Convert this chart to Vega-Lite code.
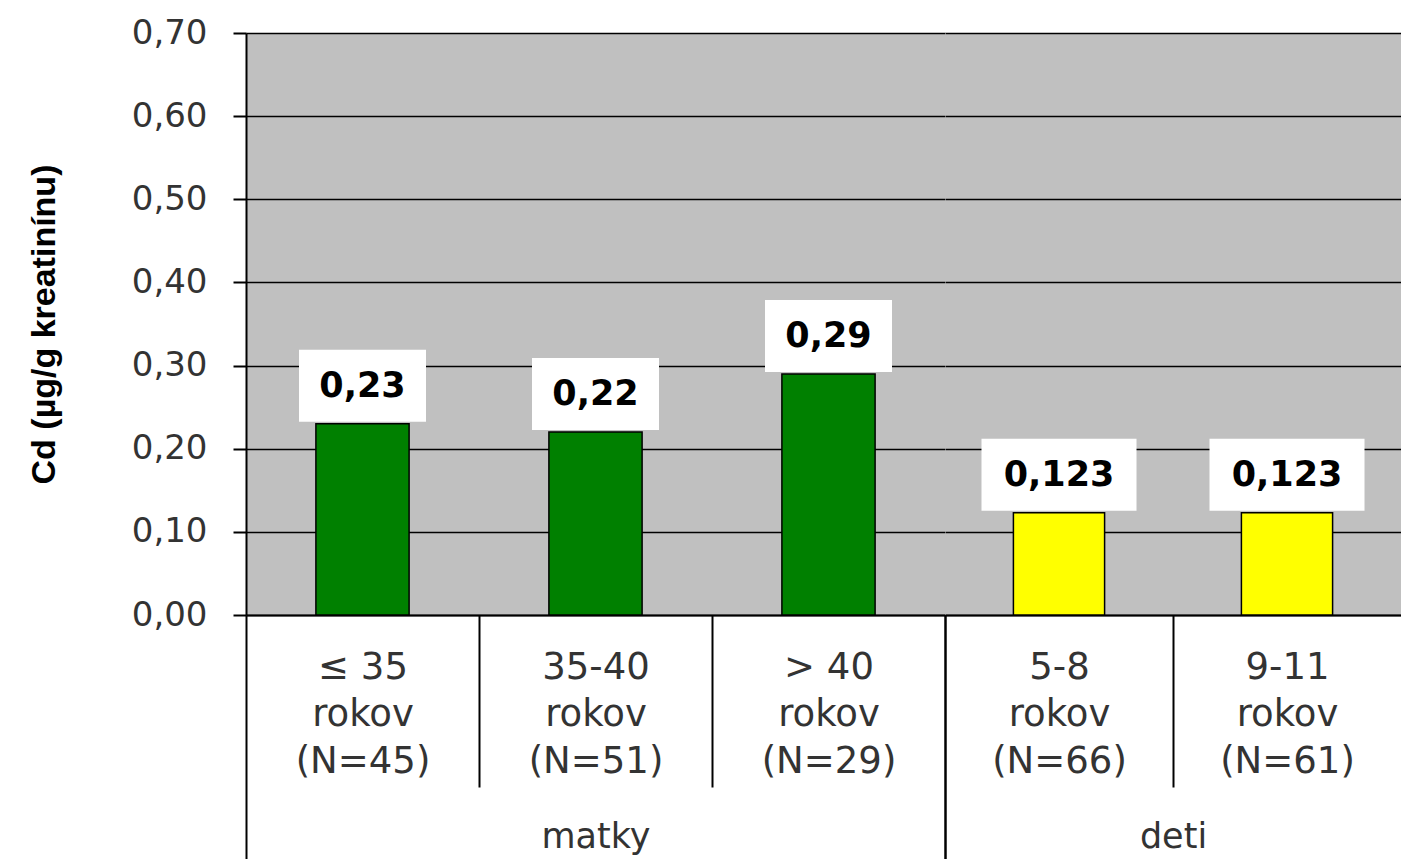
{
  "$schema": "https://vega.github.io/schema/vega-lite/v6.json",
  "padding": {"left": 27, "top": 16, "right": 0, "bottom": 0},
  "background": "white",
  "spacing": 0,
  "bounds": "flush",
  "data": {"values": [
    {"group": "matky", "cat": "≤ 35|rokov|(N=45)", "value": 0.23},
    {"group": "matky", "cat": "35-40|rokov|(N=51)", "value": 0.22},
    {"group": "matky", "cat": "> 40|rokov|(N=29)", "value": 0.29},
    {"group": "deti", "cat": "5-8|rokov|(N=66)", "value": 0.123},
    {"group": "deti", "cat": "9-11|rokov|(N=61)", "value": 0.123}
  ]},
  "config": {
    "locale": {"number": {"decimal": ",", "thousands": " ", "grouping": [3], "currency": ["", ""]}},
    "view": {"fill": "#c0c0c0", "stroke": null},
    "concat": {"spacing": 0},
    "axis": {"labelFont": "DejaVu Sans", "labelFontSize": 34, "labelColor": "#333333", "gridColor": "black", "gridWidth": 1.5, "gridOpacity": 1, "domainColor": "black", "domainWidth": 2, "tickColor": "black", "tickWidth": 2}
  },
  "hconcat": [
    {
      "width": 699,
      "height": 582,
      "transform": [{"filter": "datum.group == 'matky'"}],
      "encoding": {
        "x": {"field": "cat", "type": "nominal", "sort": null,
          "scale": {"paddingInner": 0, "paddingOuter": 0},
          "axis": {"labelExpr": "split(datum.label, '|')", "labelAngle": 0, "tickBand": "extent",
            "tickSize": {"condition": {"test": "datum.index == -1 || datum.index == 1", "value": 244}, "value": 172},
            "labelPadding": {"condition": {"test": "datum.index == -1 || datum.index == 1", "value": -210}, "value": -138},
            "labelBaseline": "top", "labelLineHeight": 47, "labelFontSize": 37,
            "title": "matky", "titleFont": "DejaVu Sans", "titleFontSize": 35, "titleFontWeight": "normal", "titleColor": "#333333", "titleY": 221, "titleBaseline": "middle"}},
        "y": {"field": "value", "type": "quantitative",
          "scale": {"domain": [0, 0.7], "nice": false},
          "axis": {"values": [0, 0.1, 0.2, 0.3, 0.4, 0.5, 0.6, 0.7], "format": ".2f", "tickSize": 13, "labelPadding": 26, "grid": true,
            "title": "Cd (µg/g kreatinínu)", "titleFont": "Liberation Sans", "titleFontSize": 34, "titleFontWeight": "bold", "titleColor": "black", "titlePadding": 70}}
      },
      "layer": [
        {"mark": {"type": "bar", "width": {"band": 0.4}, "stroke": "black", "strokeWidth": 1.5},
         "encoding": {"color": {"field": "group", "type": "nominal", "scale": {"domain": ["matky", "deti"], "range": ["#008000", "#ffff00"]}, "legend": null}}},
        {"mark": {"type": "tick", "color": "white", "thickness": 72, "yOffset": -38, "opacity": 1},
         "encoding": {"size": {"condition": {"test": "datum.value > 0.2", "value": 127}, "value": 155}}},
        {"mark": {"type": "text", "font": "DejaVu Sans", "fontWeight": "bold", "fontSize": 35, "dy": -38, "color": "black", "baseline": "middle"},
         "encoding": {"text": {"field": "value", "type": "quantitative", "format": ".3~f"}}}
      ]
    },
    {
      "width": 456,
      "height": 582,
      "transform": [{"filter": "datum.group == 'deti'"}],
      "encoding": {
        "x": {"field": "cat", "type": "nominal", "sort": null,
          "scale": {"paddingInner": 0, "paddingOuter": 0},
          "axis": {"labelExpr": "split(datum.label, '|')", "labelAngle": 0, "tickBand": "extent",
            "tickSize": {"condition": {"test": "datum.index == -1 || datum.index == 1", "value": 244}, "value": 172},
            "tickOpacity": {"condition": {"test": "datum.index == 1", "value": 0}, "value": 1},
            "labelPadding": {"condition": {"test": "datum.index == -1 || datum.index == 1", "value": -210}, "value": -138},
            "labelBaseline": "top", "labelLineHeight": 47, "labelFontSize": 37,
            "title": "deti", "titleFont": "DejaVu Sans", "titleFontSize": 35, "titleFontWeight": "normal", "titleColor": "#333333", "titleY": 221, "titleBaseline": "middle"}},
        "y": {"field": "value", "type": "quantitative",
          "scale": {"domain": [0, 0.7], "nice": false},
          "axis": {"values": [0, 0.1, 0.2, 0.3, 0.4, 0.5, 0.6, 0.7], "labels": false, "ticks": false, "domain": false, "grid": true, "title": null}}
      },
      "layer": [
        {"mark": {"type": "bar", "width": {"band": 0.4}, "stroke": "black", "strokeWidth": 1.5},
         "encoding": {"color": {"field": "group", "type": "nominal", "scale": {"domain": ["matky", "deti"], "range": ["#008000", "#ffff00"]}, "legend": null}}},
        {"mark": {"type": "tick", "color": "white", "thickness": 72, "yOffset": -38, "opacity": 1},
         "encoding": {"size": {"condition": {"test": "datum.value > 0.2", "value": 127}, "value": 155}}},
        {"mark": {"type": "text", "font": "DejaVu Sans", "fontWeight": "bold", "fontSize": 35, "dy": -38, "color": "black", "baseline": "middle"},
         "encoding": {"text": {"field": "value", "type": "quantitative", "format": ".3~f"}}}
      ]
    }
  ]
}
